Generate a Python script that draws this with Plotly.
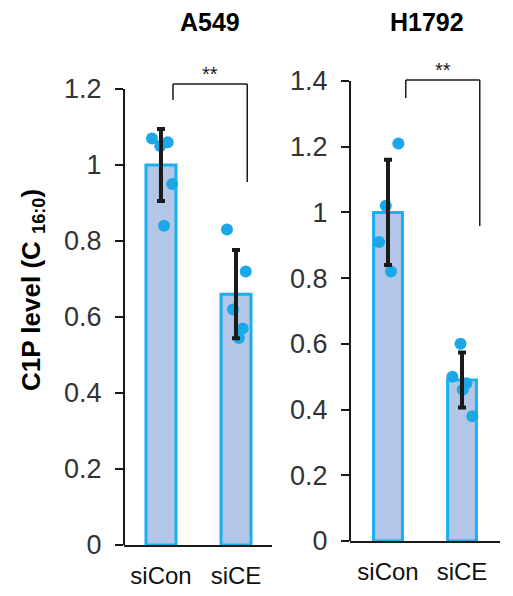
import plotly.graph_objects as go

# ---------------- data ----------------
groups = ["siCon", "siCE"]
panel_titles = ["A549", "H1792"]

a549_means = [1.00, 0.66]
a549_sd = [0.095, 0.116]
a549_sicon_pts = [1.07, 1.05, 1.06, 0.95, 0.84]
a549_sice_pts = [0.83, 0.72, 0.62, 0.57, 0.545]
a549_sicon_jit = [-0.12, -0.01, 0.09, 0.15, 0.04]
a549_sice_jit = [-0.12, 0.13, -0.04, 0.09, 0.04]

h1792_means = [1.00, 0.49]
h1792_sd = [0.16, 0.084]
h1792_sicon_pts = [1.21, 1.02, 0.91, 0.82]
h1792_sice_pts = [0.60, 0.50, 0.48, 0.46, 0.38]
h1792_sicon_jit = [0.14, -0.03, -0.12, 0.04]
h1792_sice_jit = [-0.02, -0.13, 0.06, 0.01, 0.14]

a549_yticks = [0, 0.2, 0.4, 0.6, 0.8, 1.0, 1.2]
a549_yticktext = ["0", "0.2", "0.4", "0.6", "0.8", "1", "1.2"]
h1792_yticks = [0, 0.2, 0.4, 0.6, 0.8, 1.0, 1.2, 1.4]
h1792_yticktext = ["0", "0.2", "0.4", "0.6", "0.8", "1", "1.2", "1.4"]

sig_label = "**"
y_title = "C1P level (C <sub>16:0</sub>)"

# ---------------- styles ----------------
BAR_FILL = "rgb(180,198,232)"
BAR_EDGE = "rgb(24,176,240)"
DOT = "rgb(28,168,230)"
INK = "#1a1a1a"
W, H = 513, 596

fig = go.Figure()

panels = [
    dict(means=a549_means, sd=a549_sd, pts=[a549_sicon_pts, a549_sice_pts],
         jit=[a549_sicon_jit, a549_sice_jit], xa="x", ya="y", bw=0.4,
         yticks=a549_yticks, ytt=a549_yticktext, ymax_axis=1.2,
         br=dict(x0=0.16, x1=1.15, top=1.213, l=1.171, r=0.955, sx=0.65)),
    dict(means=h1792_means, sd=h1792_sd, pts=[h1792_sicon_pts, h1792_sice_pts],
         jit=[h1792_sicon_jit, h1792_sice_jit], xa="x2", ya="y2", bw=0.39,
         yticks=h1792_yticks, ytt=h1792_yticktext, ymax_axis=1.4,
         br=dict(x0=0.24, x1=1.24, top=1.403, l=1.348, r=0.959, sx=0.74)),
]

for p in panels:
    fig.add_trace(go.Bar(
        x=[0, 1], y=p["means"], width=p["bw"], xaxis=p["xa"], yaxis=p["ya"],
        marker=dict(color=BAR_FILL, line=dict(color=BAR_EDGE, width=3)),
        showlegend=False, hoverinfo="skip"))
    for gi in range(2):
        fig.add_trace(go.Scatter(
            x=[gi + j for j in p["jit"][gi]], y=p["pts"][gi], mode="markers",
            xaxis=p["xa"], yaxis=p["ya"],
            marker=dict(color=DOT, size=12, line=dict(width=0)),
            showlegend=False, hoverinfo="skip"))
    fig.add_trace(go.Scatter(
        x=[0, 1], y=p["means"], mode="markers", xaxis=p["xa"], yaxis=p["ya"],
        marker=dict(color="rgba(0,0,0,0)", size=1),
        error_y=dict(type="data", array=p["sd"], visible=True, color=INK,
                     thickness=4, width=4),
        showlegend=False, hoverinfo="skip"))

layout_axes = {}
px_dom = [(124, 272, 545, 89, 1.2), (350, 500, 541, 81, 1.4)]
xr = [(-0.493, 1.48), (-0.5135, 1.5135)]
TOP_PX = 55
for i, (p, (xl, xrpx, ybot, ytop, yv)) in enumerate(zip(panels, px_dom)):
    unit = (ybot - ytop) / yv
    yrange_top = (ybot - TOP_PX) / unit
    sx = "" if i == 0 else "2"
    layout_axes["xaxis" + sx] = dict(
        domain=[xl / W, xrpx / W], range=list(xr[i]), anchor="y" + sx,
        tickvals=[0, 1], ticktext=groups, showline=True, linecolor=INK,
        linewidth=2, ticks="", showgrid=False, zeroline=False, automargin=False,
        tickfont=dict(family="Liberation Sans, Arial, sans-serif", size=24, color="#111"),
        ticklabelstandoff=8)
    layout_axes["yaxis" + sx] = dict(
        domain=[1 - ybot / H, 1 - TOP_PX / H], range=[0, yrange_top],
        anchor="x" + sx, tickvals=p["yticks"], ticktext=p["ytt"],
        showline=False, ticks="outside", ticklen=8, tickwidth=2, tickcolor=INK,
        showgrid=False, zeroline=False, automargin=False,
        tickfont=dict(family="Liberation Sans, Arial, sans-serif",
                      size=27, color="#333333"),
        ticklabelstandoff=8)

shapes = []
annotations = []
for i, p in enumerate(panels):
    sx = "" if i == 0 else "2"
    # y axis line (stops at top tick)
    shapes.append(dict(type="line", xref="x" + sx + " domain", yref="y" + sx,
                       x0=0, x1=0, y0=0, y1=p["ymax_axis"],
                       line=dict(color=INK, width=2)))
    b = p["br"]
    for (xa0, ya0, xa1, ya1) in [(b["x0"], b["l"], b["x0"], b["top"]),
                                 (b["x0"], b["top"], b["x1"], b["top"]),
                                 (b["x1"], b["top"], b["x1"], b["r"])]:
        shapes.append(dict(type="line", xref="x" + sx, yref="y" + sx,
                           x0=xa0, x1=xa1, y0=ya0, y1=ya1,
                           line=dict(color=INK, width=1.5)))
    annotations.append(dict(text=sig_label, xref="x" + sx, yref="y" + sx,
                            x=b["sx"], y=b["top"], yanchor="bottom", showarrow=False,
                            yshift=-3,
                            font=dict(family="Liberation Sans, Arial", size=20, color=INK)))

title_x = [210, 427]
for t, tx in zip(panel_titles, title_x):
    annotations.append(dict(text="<b>%s</b>" % t, xref="paper", yref="paper",
                            x=tx / W, y=1 - 22 / H, xanchor="center", yanchor="middle",
                            showarrow=False,
                            font=dict(family="Liberation Sans, Arial", size=25, color="#000")))

annotations.append(dict(text="<b>%s</b>" % y_title, xref="paper", yref="paper",
                        x=32 / W, y=1 - 290 / H, xanchor="center", yanchor="middle",
                        textangle=-90, showarrow=False,
                        font=dict(family="Liberation Sans, Arial", size=26, color="#000")))

fig.update_layout(
    width=W, height=H, margin=dict(l=0, r=0, t=0, b=0, autoexpand=False),
    paper_bgcolor="white", plot_bgcolor="white",
    shapes=shapes, annotations=annotations, **layout_axes)

fig.write_html("out.html")
